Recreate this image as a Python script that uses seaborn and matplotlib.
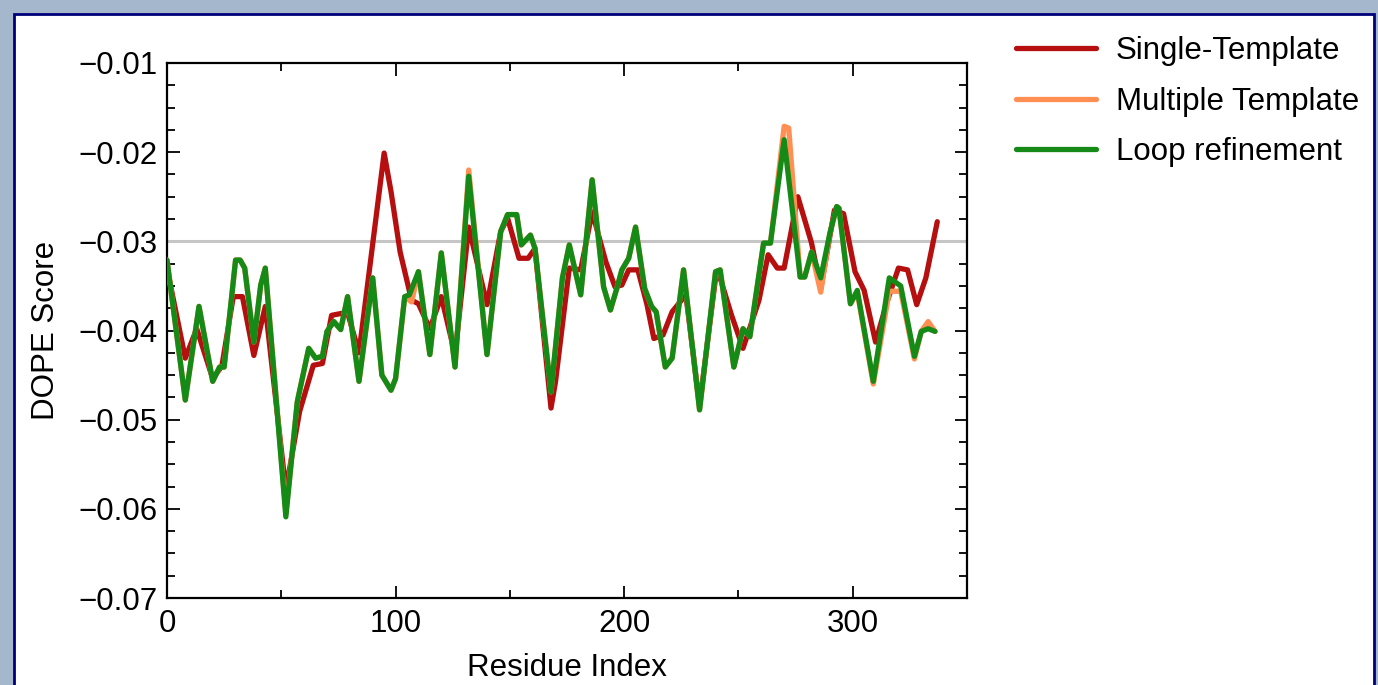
import numpy as np
import pandas as pd
import seaborn as sns
import matplotlib.pyplot as plt
from matplotlib.patches import Rectangle
from matplotlib.ticker import MultipleLocator
from matplotlib.lines import Line2D

# DOPE profile values (residue index, score)
single_res = [0, 8, 13, 20, 24, 29, 33, 38, 43, 52, 58, 64, 68, 72, 76, 79, 84, 95, 98, 102,
              107, 110, 115, 120, 126, 132, 140, 146, 149, 154, 158, 161, 168, 170, 176, 181,
              186, 192, 196, 199, 202, 206, 210, 213, 217, 221, 227, 233, 240, 242, 247, 252,
              259, 263, 267, 270, 276, 282, 286, 292, 296, 301, 305, 310, 315, 320, 324, 328,
              332, 337]
single_val = [-0.0330, -0.0431, -0.0398, -0.0454, -0.0440, -0.0362, -0.0362, -0.0428, -0.0373,
              -0.0579, -0.0491, -0.0439, -0.0437, -0.0383, -0.0381, -0.0380, -0.0425, -0.0201,
              -0.0244, -0.0312, -0.0366, -0.0370, -0.0398, -0.0362, -0.0427, -0.0284, -0.0371,
              -0.0289, -0.0274, -0.0319, -0.0319, -0.0308, -0.0487, -0.0457, -0.0330, -0.0332,
              -0.0267, -0.0323, -0.0351, -0.0349, -0.0332, -0.0332, -0.0371, -0.0409, -0.0405,
              -0.0379, -0.0360, -0.0484, -0.0341, -0.0341, -0.0383, -0.0420, -0.0366, -0.0315,
              -0.0330, -0.0330, -0.0250, -0.0302, -0.0353, -0.0265, -0.0269, -0.0334, -0.0355,
              -0.0413, -0.0368, -0.0330, -0.0332, -0.0371, -0.0341, -0.0278]

loop_res = [0, 8, 14, 20, 23, 25, 30, 32, 34, 38, 41, 43, 52, 57, 62, 65, 68, 70, 73, 76,
            79, 84, 90, 94, 98, 100, 104, 106, 110, 115, 120, 126, 132, 140, 146, 149, 153,
            155, 159, 161, 168, 173, 176, 181, 186, 191, 194, 197, 199, 202, 205, 209, 212,
            214, 218, 221, 226, 233, 240, 242, 248, 252, 255, 261, 264, 270, 277, 279, 282,
            286, 290, 293, 294, 299, 302, 309, 316, 321, 327, 330, 333, 336]
loop_val = [-0.0321, -0.0478, -0.0373, -0.0457, -0.0441, -0.0441, -0.0321, -0.0321, -0.0330,
            -0.0413, -0.0349, -0.0330, -0.0609, -0.0480, -0.0420, -0.0431, -0.0429, -0.0401,
            -0.0390, -0.0399, -0.0362, -0.0457, -0.0341, -0.0450, -0.0467, -0.0454, -0.0362,
            -0.0360, -0.0334, -0.0427, -0.0313, -0.0441, -0.0227, -0.0427, -0.0289, -0.0270,
            -0.0270, -0.0304, -0.0293, -0.0308, -0.0469, -0.0341, -0.0304, -0.0360, -0.0231,
            -0.0351, -0.0377, -0.0351, -0.0332, -0.0319, -0.0284, -0.0353, -0.0373, -0.0379,
            -0.0441, -0.0431, -0.0332, -0.0489, -0.0334, -0.0332, -0.0441, -0.0398, -0.0407,
            -0.0302, -0.0302, -0.0186, -0.0340, -0.0340, -0.0312, -0.0341, -0.0291, -0.0261,
            -0.0263, -0.0370, -0.0355, -0.0457, -0.0341, -0.0350, -0.0429, -0.0401, -0.0398,
            -0.0401]

multi_res = [0, 8, 14, 20, 23, 25, 30, 32, 34, 38, 41, 43, 52, 57, 62, 65, 68, 70, 73, 76,
             79, 84, 90, 94, 98, 100, 104, 107, 110, 115, 120, 126, 132, 140, 146, 149, 153,
             155, 159, 161, 168, 173, 176, 181, 186, 191, 194, 197, 199, 202, 205, 209, 212,
             214, 218, 221, 226, 233, 240, 242, 248, 252, 255, 261, 264, 270, 272, 277, 279,
             282, 286, 290, 293, 294, 299, 302, 309, 316, 321, 327, 330, 333, 336]
multi_val = [-0.0321, -0.0478, -0.0373, -0.0457, -0.0441, -0.0441, -0.0321, -0.0321, -0.0330,
             -0.0413, -0.0349, -0.0330, -0.0605, -0.0480, -0.0420, -0.0431, -0.0429, -0.0401,
             -0.0390, -0.0399, -0.0362, -0.0457, -0.0341, -0.0450, -0.0467, -0.0454, -0.0362,
             -0.0368, -0.0334, -0.0427, -0.0313, -0.0441, -0.0220, -0.0427, -0.0289, -0.0270,
             -0.0270, -0.0304, -0.0293, -0.0308, -0.0469, -0.0341, -0.0304, -0.0360, -0.0231,
             -0.0351, -0.0377, -0.0351, -0.0332, -0.0319, -0.0284, -0.0353, -0.0373, -0.0379,
             -0.0441, -0.0431, -0.0332, -0.0489, -0.0334, -0.0332, -0.0441, -0.0398, -0.0407,
             -0.0302, -0.0302, -0.0171, -0.0173, -0.0340, -0.0340, -0.0312, -0.0357, -0.0291,
             -0.0261, -0.0263, -0.0370, -0.0357, -0.0460, -0.0356, -0.0356, -0.0432, -0.0401,
             -0.0390, -0.0401]

labels = ["Single-Template", "Multiple Template", "Loop refinement"]
colors = {"Single-Template": "#b50f0f", "Multiple Template": "#ff8f52", "Loop refinement": "#168a16"}

df = pd.concat([
    pd.DataFrame({"res": single_res, "dope": single_val, "model": labels[0]}),
    pd.DataFrame({"res": multi_res, "dope": multi_val, "model": labels[1]}),
    pd.DataFrame({"res": loop_res, "dope": loop_val, "model": labels[2]}),
], ignore_index=True)

sns.set_style("ticks")
plt.rcParams["font.family"] = ["Liberation Sans", "DejaVu Sans"]
plt.rcParams["text.color"] = "black"
plt.rcParams["axes.labelcolor"] = "black"
plt.rcParams["xtick.color"] = "black"
plt.rcParams["ytick.color"] = "black"

fig = plt.figure(figsize=(13.78, 6.85), dpi=100)
fig.patch.set_facecolor("#a5b7cd")
panel = Rectangle((14 / 1378, -0.02), 1360 / 1378, 1.02 - 14 / 685,
                  transform=fig.transFigure, facecolor="white",
                  edgecolor="#00007a", linewidth=2, zorder=-5)
fig.patches.append(panel)
ax = fig.add_axes([167 / 1378, 1 - 598 / 685, 800 / 1378, 535 / 685])
ax.set_zorder(2)
ax.set_facecolor("white")

ax.axhline(-0.03, color="#c6c6c6", lw=2.2, zorder=1)
sns.lineplot(data=df, x="res", y="dope", hue="model", hue_order=labels, palette=colors,
             estimator=None, sort=False, lw=3.8, ax=ax, legend=False, zorder=3)

ax.set_xlim(0, 350)
ax.set_ylim(-0.07, -0.01)
ax.set_xticks([0, 100, 200, 300])
ax.set_yticks([-0.07, -0.06, -0.05, -0.04, -0.03, -0.02, -0.01])
ax.xaxis.set_minor_locator(MultipleLocator(50))
ax.yaxis.set_minor_locator(MultipleLocator(0.0025))
ax.tick_params(which="both", direction="in", top=True, right=True, width=1.3,
               labelsize=22.5, color="black", labelcolor="black")
ax.tick_params(which="major", length=9)
ax.tick_params(which="minor", length=5.5)
ax.tick_params(axis="x", pad=8)
ax.tick_params(axis="y", pad=7)
for s in ax.spines.values():
    s.set_linewidth(1.6)
    s.set_color("black")

ax.set_xlabel("Residue Index", fontsize=22.5, labelpad=10, color="black")
ax.set_ylabel("DOPE Score", fontsize=22.5, labelpad=12, color="black")

handles = [Line2D([], [], color=colors[l], lw=3.8) for l in labels]
leg = ax.legend(handles, labels, loc="upper left", bbox_to_anchor=(1016 / 1378, 1 - 36 / 685),
                bbox_transform=fig.transFigure, frameon=False, fontsize=22.5, borderpad=0,
                borderaxespad=0, handlelength=2.55, handletextpad=0.65, labelspacing=0.66)
for t in leg.get_texts():
    t.set_color("black")

fig.savefig("out.png", dpi=100, facecolor=fig.get_facecolor())
